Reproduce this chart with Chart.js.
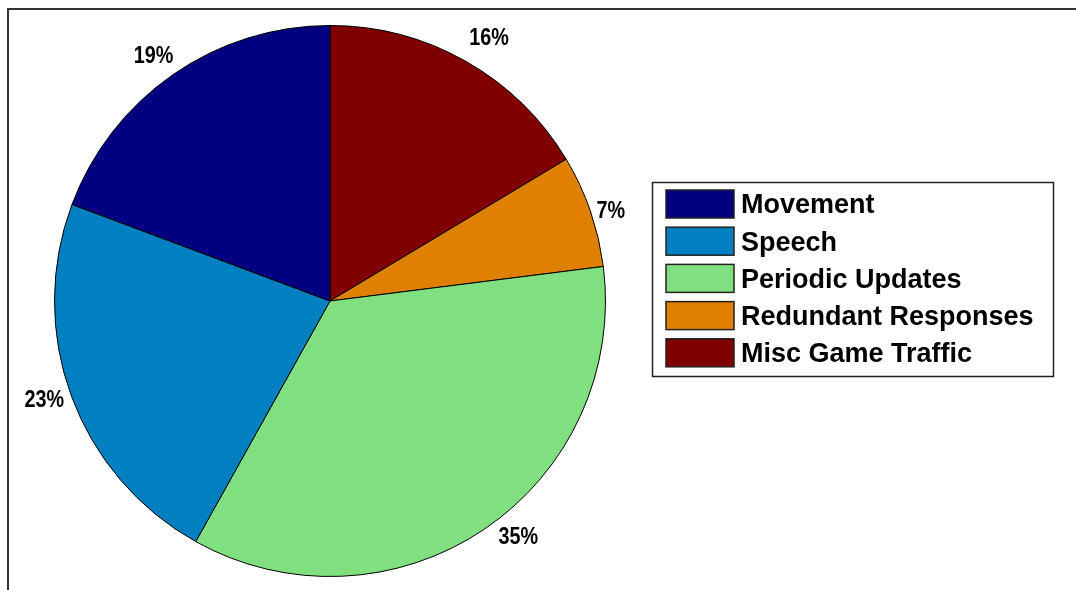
<!DOCTYPE html>
<html>
<head>
<meta charset="utf-8">
<script src="https://cdn.jsdelivr.net/npm/chart.js@4.4.1/dist/chart.umd.min.js"></script>
<style>
  html, body { margin: 0; padding: 0; background: #ffffff; }
  #wrap { width: 1076px; height: 590px; position: relative; }
  canvas { display: block; }
</style>
</head>
<body>
<div id="wrap"><canvas id="c" width="1076" height="590"></canvas></div>
<script>
// Data in legend order (MATLAB pie: counter-clockwise from 12 o'clock)
const categories = ['Movement', 'Speech', 'Periodic Updates', 'Redundant Responses', 'Misc Game Traffic'];
const values = [19.3, 22.6, 35.1, 6.6, 16.4];
const colors = ['#000080', '#0080c0', '#80e080', '#e08000', '#800000'];

// Chart.js draws clockwise, so feed the slices in reverse order
const chartLabels = categories.slice().reverse();
const chartValues = values.slice().reverse();
const chartColors = colors.slice().reverse();

const frameAndLabels = {
  id: 'frameAndLabels',
  afterDraw(chart, args, opts) {
    const ctx = chart.ctx;
    ctx.save();
    // figure frame (top and left edges visible)
    ctx.strokeStyle = '#333333';
    ctx.lineWidth = 2;
    ctx.beginPath();
    ctx.moveTo(8, 591);
    ctx.lineTo(8, 9);
    ctx.lineTo(1077, 9);
    ctx.stroke();

    // percentage labels outside each slice
    const meta = chart.getDatasetMeta(0);
    const total = chartValues.reduce((a, b) => a + b, 0);
    const nudges = opts.nudges || [];
    ctx.fillStyle = '#000000';
    ctx.font = 'bold 23px "Liberation Sans", Arial, sans-serif';
    ctx.textAlign = 'center';
    ctx.textBaseline = 'middle';
    meta.data.forEach((arc, i) => {
      const mid = (arc.startAngle + arc.endAngle) / 2;
      const r = arc.outerRadius * 1.105;
      const n = nudges[i] || [0, 0];
      const x = arc.x + Math.cos(mid) * r + n[0];
      const y = arc.y + Math.sin(mid) * r + n[1] + 2;
      ctx.save();
      ctx.translate(x, y);
      ctx.scale(0.86, 1);
      ctx.fillText(Math.round(chartValues[i] / total * 100) + '%', 0, 0);
      ctx.restore();
    });

    // legend box
    const lx = 652, ly = 182, lw = 401, lh = 194;
    ctx.fillStyle = '#ffffff';
    ctx.fillRect(lx, ly, lw, lh);
    ctx.strokeStyle = '#222222';
    ctx.lineWidth = 1.5;
    ctx.strokeRect(lx + 0.5, ly + 0.5, lw, lh);
    ctx.font = 'bold 27px "Liberation Sans", Arial, sans-serif';
    ctx.textAlign = 'left';
    ctx.textBaseline = 'middle';
    categories.forEach((name, i) => {
      const cy = 204 + i * 37.2;
      ctx.fillStyle = colors[i];
      ctx.fillRect(666, cy - 14, 68, 28);
      ctx.strokeStyle = '#222222';
      ctx.lineWidth = 1.5;
      ctx.strokeRect(666, cy - 14, 68, 28);
      ctx.fillStyle = '#000000';
      ctx.fillText(name, 741, cy + 2);
    });
    ctx.restore();
  }
};

new Chart(document.getElementById('c'), {
  type: 'pie',
  data: {
    labels: chartLabels,
    datasets: [{
      data: chartValues,
      backgroundColor: chartColors,
      borderColor: '#000000',
      borderWidth: 1
    }]
  },
  options: {
    responsive: false,
    animation: false,
    layout: { padding: { left: 54, top: 25, right: 470, bottom: 13 } },
    plugins: {
      legend: { display: false },
      tooltip: { enabled: false },
      frameAndLabels: {
        // small label nudges (px), chart order: Misc, Redundant, Periodic, Speech, Movement
        nudges: [[9, 1], [-7, 8], [18, -18], [0, -7], [-3, 4]]
      }
    }
  },
  plugins: [frameAndLabels]
});
</script>
</body>
</html>
